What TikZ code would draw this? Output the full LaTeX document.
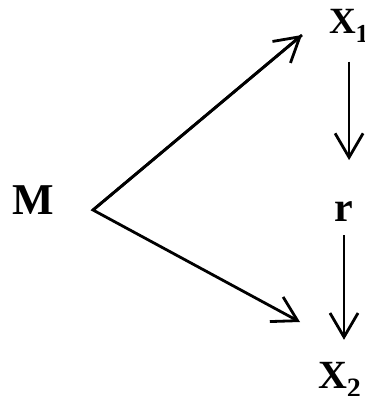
\documentclass[tikz,border=0pt]{standalone}
\usepackage{fontspec}
\setmainfont{Liberation Serif}
\usetikzlibrary{arrows.meta}
\begin{document}
\begin{tikzpicture}[x=1pt,y=-1pt,
  lbl/.style={inner sep=0pt, outer sep=0pt, font=\bfseries},
  arr/.style={line width=2.8pt, -{Straight Barb[length=24pt,width=28pt,line width=2.8pt]}}]
\useasboundingbox (0,0) rectangle (364,396);
\node[lbl, anchor=base, font=\fontsize{44}{46}\selectfont\bfseries] (M) at (33,214) {M};
\node[lbl, anchor=base, font=\fontsize{42}{44}\selectfont\bfseries] (r) at (344,221) {r};
\node[lbl, anchor=base west, font=\fontsize{37}{40}\selectfont\bfseries] (X1) at (329,34) {X\textsubscript{1}};
\node[lbl, anchor=base west, font=\fontsize{40}{42}\selectfont\bfseries] (X2) at (318,388) {X\textsubscript{2}};
\coordinate (apex) at (93,210);
\coordinate (t1) at (302,35);
\coordinate (t2) at (300,322);
\draw[arr, line join=miter] (t1) -- (apex) -- (t2);
\draw[arr] (apex) -- (t1);
\draw[arr, shorten <=19pt, shorten >=41pt] (X1.south) -- (X1.south |- r.north);
\draw[arr, shorten <=14pt, shorten >=22pt] (r.south) -- (r.south |- X2.north);
\end{tikzpicture}
\end{document}
